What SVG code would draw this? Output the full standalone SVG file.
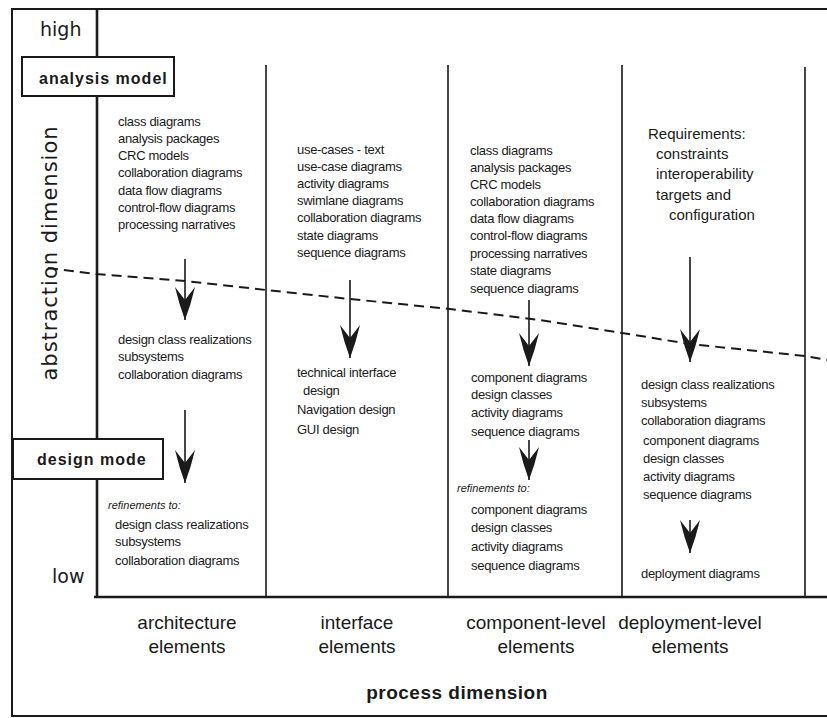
<svg xmlns="http://www.w3.org/2000/svg" width="827" height="718" viewBox="0 0 827 718">
<style>
.t{font-family:"Liberation Sans Narrow","Liberation Sans",Arial,sans-serif;font-size:13px;fill:#1a1a1a;letter-spacing:-0.3px}
.r{font-family:"Liberation Sans Narrow","Liberation Sans",Arial,sans-serif;font-size:15px;fill:#1a1a1a}
.i{font-family:"Liberation Sans",Arial,sans-serif;font-size:11px;font-style:italic;fill:#1a1a1a}
.b{font-family:"Liberation Sans",Arial,sans-serif;font-size:16px;font-weight:bold;fill:#1a1a1a;letter-spacing:1px}
.lab{font-family:"Liberation Sans Narrow","Liberation Sans",Arial,sans-serif;font-size:19px;fill:#1a1a1a;text-anchor:middle}
.ax{font-family:"DejaVu Sans","Liberation Sans",sans-serif;font-size:19px;fill:#1a1a1a}
.frame{fill:none;stroke:#1a1a1a;stroke-width:2}
.col{stroke:#1a1a1a;stroke-width:1.6;fill:none}
.box{fill:#fff;stroke:#1a1a1a;stroke-width:2}
.arr{stroke:#1a1a1a;stroke-width:1.6;fill:none;marker-end:url(#ah)}
.dash{stroke:#1a1a1a;stroke-width:2;fill:none;stroke-dasharray:10 6}
</style>
<defs>
<marker id="ah" markerUnits="userSpaceOnUse" markerWidth="34" markerHeight="22" viewBox="0 0 34 22" refX="33" refY="11" orient="auto">
<path d="M33,11 Q17,5 0,1 L13,11 L0,21 Q17,17 33,11 Z" fill="#1a1a1a"/>
</marker>
</defs>
<rect width="827" height="718" fill="#fff"/>
<g id="frame">
<path class="frame" d="M827,9 H12 V716 H827"/>
<path class="col" d="M97,9 V597 M94,597 H827" style="stroke-width:2.6"/>
<path class="col" d="M266,65 V597 M448,65 V597 M622,65 V597 M805,67 V597"/>
</g>
<g id="axis-labels">
<text class="ax" x="40" y="36">high</text>
<text class="ax" x="52" y="583">low</text>
<text class="ax" transform="translate(57,253) rotate(-90)" text-anchor="middle" style="font-size:21px;letter-spacing:1px">abstraction dimension</text>
</g>
<g id="dashed-boundary">
<path class="dash" d="M48,268 L96,274 L185,281 L266,290 L350,299 L450,309 L540,320 L622,333 L690,344 L805,356 L827,360"/>
</g>
<g id="analysis-model">
<rect class="box" x="22" y="57" width="152" height="39"/>
<text class="b" x="39" y="84">analysis model</text>
</g>
<g id="design-model">
<rect class="box" x="13" y="439" width="150" height="40"/>
<text class="b" x="37" y="465">design mode</text>
</g>
<g id="architecture-column">
<text class="t" x="118" y="126">class diagrams</text>
<text class="t" x="118" y="143">analysis packages</text>
<text class="t" x="118" y="160">CRC models</text>
<text class="t" x="118" y="177">collaboration diagrams</text>
<text class="t" x="118" y="195">data flow diagrams</text>
<text class="t" x="118" y="212">control-flow diagrams</text>
<text class="t" x="118" y="229">processing narratives</text>
<text class="t" x="118" y="344">design class realizations</text>
<text class="t" x="118" y="361">subsystems</text>
<text class="t" x="118" y="379">collaboration diagrams</text>
<text class="i" x="108" y="509">refinements to:</text>
<text class="t" x="115" y="529">design class realizations</text>
<text class="t" x="115" y="546">subsystems</text>
<text class="t" x="115" y="565">collaboration diagrams</text>
</g>
<g id="interface-column">
<text class="t" x="297" y="154">use-cases - text</text>
<text class="t" x="297" y="171">use-case diagrams</text>
<text class="t" x="297" y="188">activity diagrams</text>
<text class="t" x="297" y="205">swimlane diagrams</text>
<text class="t" x="297" y="222">collaboration diagrams</text>
<text class="t" x="297" y="240">state diagrams</text>
<text class="t" x="297" y="257">sequence diagrams</text>
<text class="t" x="297" y="377">technical interface</text>
<text class="t" x="303" y="395">design</text>
<text class="t" x="297" y="414">Navigation design</text>
<text class="t" x="297" y="434">GUI design</text>
</g>
<g id="component-column">
<text class="t" x="470" y="155">class diagrams</text>
<text class="t" x="470" y="172">analysis packages</text>
<text class="t" x="470" y="189">CRC models</text>
<text class="t" x="470" y="206">collaboration diagrams</text>
<text class="t" x="470" y="223">data flow diagrams</text>
<text class="t" x="470" y="240">control-flow diagrams</text>
<text class="t" x="470" y="258">processing narratives</text>
<text class="t" x="470" y="275">state diagrams</text>
<text class="t" x="470" y="293">sequence diagrams</text>
<text class="t" x="471" y="382">component diagrams</text>
<text class="t" x="471" y="399">design classes</text>
<text class="t" x="471" y="417">activity diagrams</text>
<text class="t" x="471" y="436">sequence diagrams</text>
<text class="i" x="457" y="492">refinements to:</text>
<text class="t" x="471" y="514">component diagrams</text>
<text class="t" x="471" y="532">design classes</text>
<text class="t" x="471" y="551">activity diagrams</text>
<text class="t" x="471" y="570">sequence diagrams</text>
</g>
<g id="deployment-column">
<text class="r" x="648" y="139">Requirements:</text>
<text class="r" x="656" y="159">constraints</text>
<text class="r" x="656" y="179">interoperability</text>
<text class="r" x="656" y="200">targets and</text>
<text class="r" x="669" y="220">configuration</text>
<text class="t" x="641" y="389">design class realizations</text>
<text class="t" x="641" y="407">subsystems</text>
<text class="t" x="641" y="425">collaboration diagrams</text>
<text class="t" x="643" y="445">component diagrams</text>
<text class="t" x="643" y="463">design classes</text>
<text class="t" x="643" y="481">activity diagrams</text>
<text class="t" x="643" y="499">sequence diagrams</text>
<text class="t" x="641" y="578">deployment diagrams</text>
</g>
<g id="connectors">
<line class="arr" x1="185" y1="259" x2="185" y2="320"/>
<line class="arr" x1="185" y1="410" x2="185" y2="483"/>
<line class="arr" x1="350" y1="280" x2="350" y2="358"/>
<line class="arr" x1="529" y1="300" x2="529" y2="366"/>
<line class="arr" x1="529" y1="440" x2="529" y2="480"/>
<line class="arr" x1="690" y1="257" x2="690" y2="362"/>
<line class="arr" x1="690" y1="520" x2="690" y2="553"/>
</g>
<g id="process-labels">
<text class="lab" x="187" y="629">architecture</text>
<text class="lab" x="187" y="653">elements</text>
<text class="lab" x="357" y="629">interface</text>
<text class="lab" x="357" y="653">elements</text>
<text class="lab" x="536" y="629">component-level</text>
<text class="lab" x="536" y="653">elements</text>
<text class="lab" x="690" y="629">deployment-level</text>
<text class="lab" x="690" y="653">elements</text>
<text class="b" x="457" y="699" text-anchor="middle" style="font-size:19px;letter-spacing:0.5px">process dimension</text>
</g>
</svg>
